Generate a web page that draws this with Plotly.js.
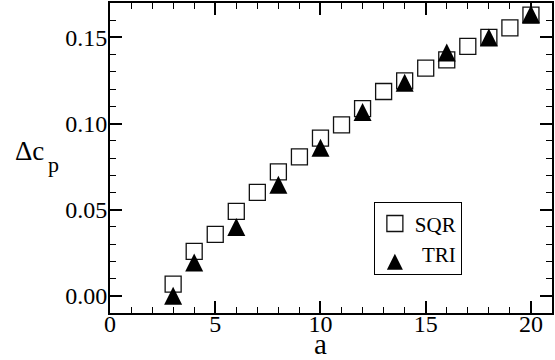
<!DOCTYPE html>
<html>
<head>
<meta charset="utf-8">
<script src="https://cdn.plot.ly/plotly-3.0.1.min.js"></script>
<style>html,body{margin:0;padding:0;background:#fff;}</style>
</head>
<body>
<div id="chart" style="width:555px;height:360px;"></div>
<script>
// Data
const sqrA = [3, 4, 5, 6, 7, 8, 9, 10, 11, 12, 13, 14, 15, 16, 17, 18, 19, 20];
const sqrDcp = [0.0068, 0.0258, 0.0357, 0.0490, 0.0600, 0.0720, 0.0807, 0.0915, 0.0992, 0.1087, 0.1186, 0.1248, 0.1322, 0.1370, 0.1448, 0.1500, 0.1556, 0.1630];
const triA = [3, 4, 6, 8, 10, 12, 14, 16, 18, 20];
const triDcp = [0.0000, 0.0193, 0.0400, 0.0644, 0.0859, 0.1067, 0.1237, 0.1412, 0.1500, 0.1634];
const seriesNames = ['SQR', 'TRI'];
const xTickVals = [0, 5, 10, 15, 20];
const yTickVals = [0.00, 0.05, 0.10, 0.15];

const FONT = '"Liberation Serif", "Times New Roman", Times, serif';
const yRange = [-0.01, 0.17];
const plotH = 360 - 3 - 47;
const triSize = 18;
// arrow-up marker has its tip at the data point; shift its axis so the marker is centred on the point
const shift = (triSize / 2) * (yRange[1] - yRange[0]) / plotH;

const traces = [
  {
    x: sqrA, y: sqrDcp, name: seriesNames[0], type: 'scatter', mode: 'markers',
    marker: {symbol: 'square-open', size: 16, color: '#111', line: {width: 1.3, color: '#111'}}
  },
  {
    x: triA, y: triDcp, name: '\u2004' + seriesNames[1], type: 'scatter', mode: 'markers', yaxis: 'y2',
    marker: {symbol: 'arrow-up', size: triSize, color: '#000', line: {width: 0}}
  }
];

const axisCommon = {
  showline: true, linewidth: 2, linecolor: '#000', mirror: 'ticks',
  ticks: 'inside', ticklen: 12, tickwidth: 2, tickcolor: '#000',
  showgrid: false, zeroline: false,
  tickfont: {family: FONT, size: 24, color: '#000'}
};

const layout = {
  width: 555, height: 360,
  margin: {l: 110, r: 3, t: 3, b: 47},
  paper_bgcolor: '#fff', plot_bgcolor: '#fff',
  showlegend: true,
  font: {family: FONT, color: '#000'},
  xaxis: Object.assign({}, axisCommon, {
    range: [0, 21], tickmode: 'array', tickvals: xTickVals, ticklabelstandoff: -12,
    minor: {dtick: 1, tick0: 0, ticks: 'inside', ticklen: 6, tickwidth: 1, tickcolor: '#000', showgrid: false}
  }),
  yaxis: Object.assign({}, axisCommon, {
    range: yRange, tickmode: 'array', tickvals: yTickVals, tickformat: '.2f', ticklabelstandoff: -4,
    minor: {dtick: 0.01, tick0: 0, ticks: 'inside', ticklen: 6, tickwidth: 1, tickcolor: '#000', showgrid: false}
  }),
  yaxis2: {
    overlaying: 'y', anchor: 'x', visible: false,
    range: [yRange[0] - shift, yRange[1] - shift]
  },
  legend: {
    x: 0.597, y: 0.357, xanchor: 'left', yanchor: 'top',
    bgcolor: '#fff', bordercolor: '#000', borderwidth: 1,
    font: {family: FONT, size: 21, color: '#000'},
    traceorder: 'normal'
  },
  annotations: [
    {
      text: '\u0394c', xref: 'paper', yref: 'paper',
      x: -0.2195, y: 0.5234, xanchor: 'left', yanchor: 'middle', showarrow: false,
      font: {family: FONT, size: 27, color: '#000'}
    },
    {
      text: 'p', xref: 'paper', yref: 'paper',
      x: -0.145, y: 0.478, xanchor: 'left', yanchor: 'middle', showarrow: false,
      font: {family: FONT, size: 22, color: '#000'}
    },
    {
      text: 'a', xref: 'paper', yref: 'paper',
      x: 10 / 21, y: -0.099, xanchor: 'center', yanchor: 'middle', showarrow: false,
      font: {family: FONT, size: 29, color: '#000'}
    }
  ]
};

Plotly.newPlot('chart', traces, layout, {displayModeBar: false, staticPlot: true});
</script>
</body>
</html>
